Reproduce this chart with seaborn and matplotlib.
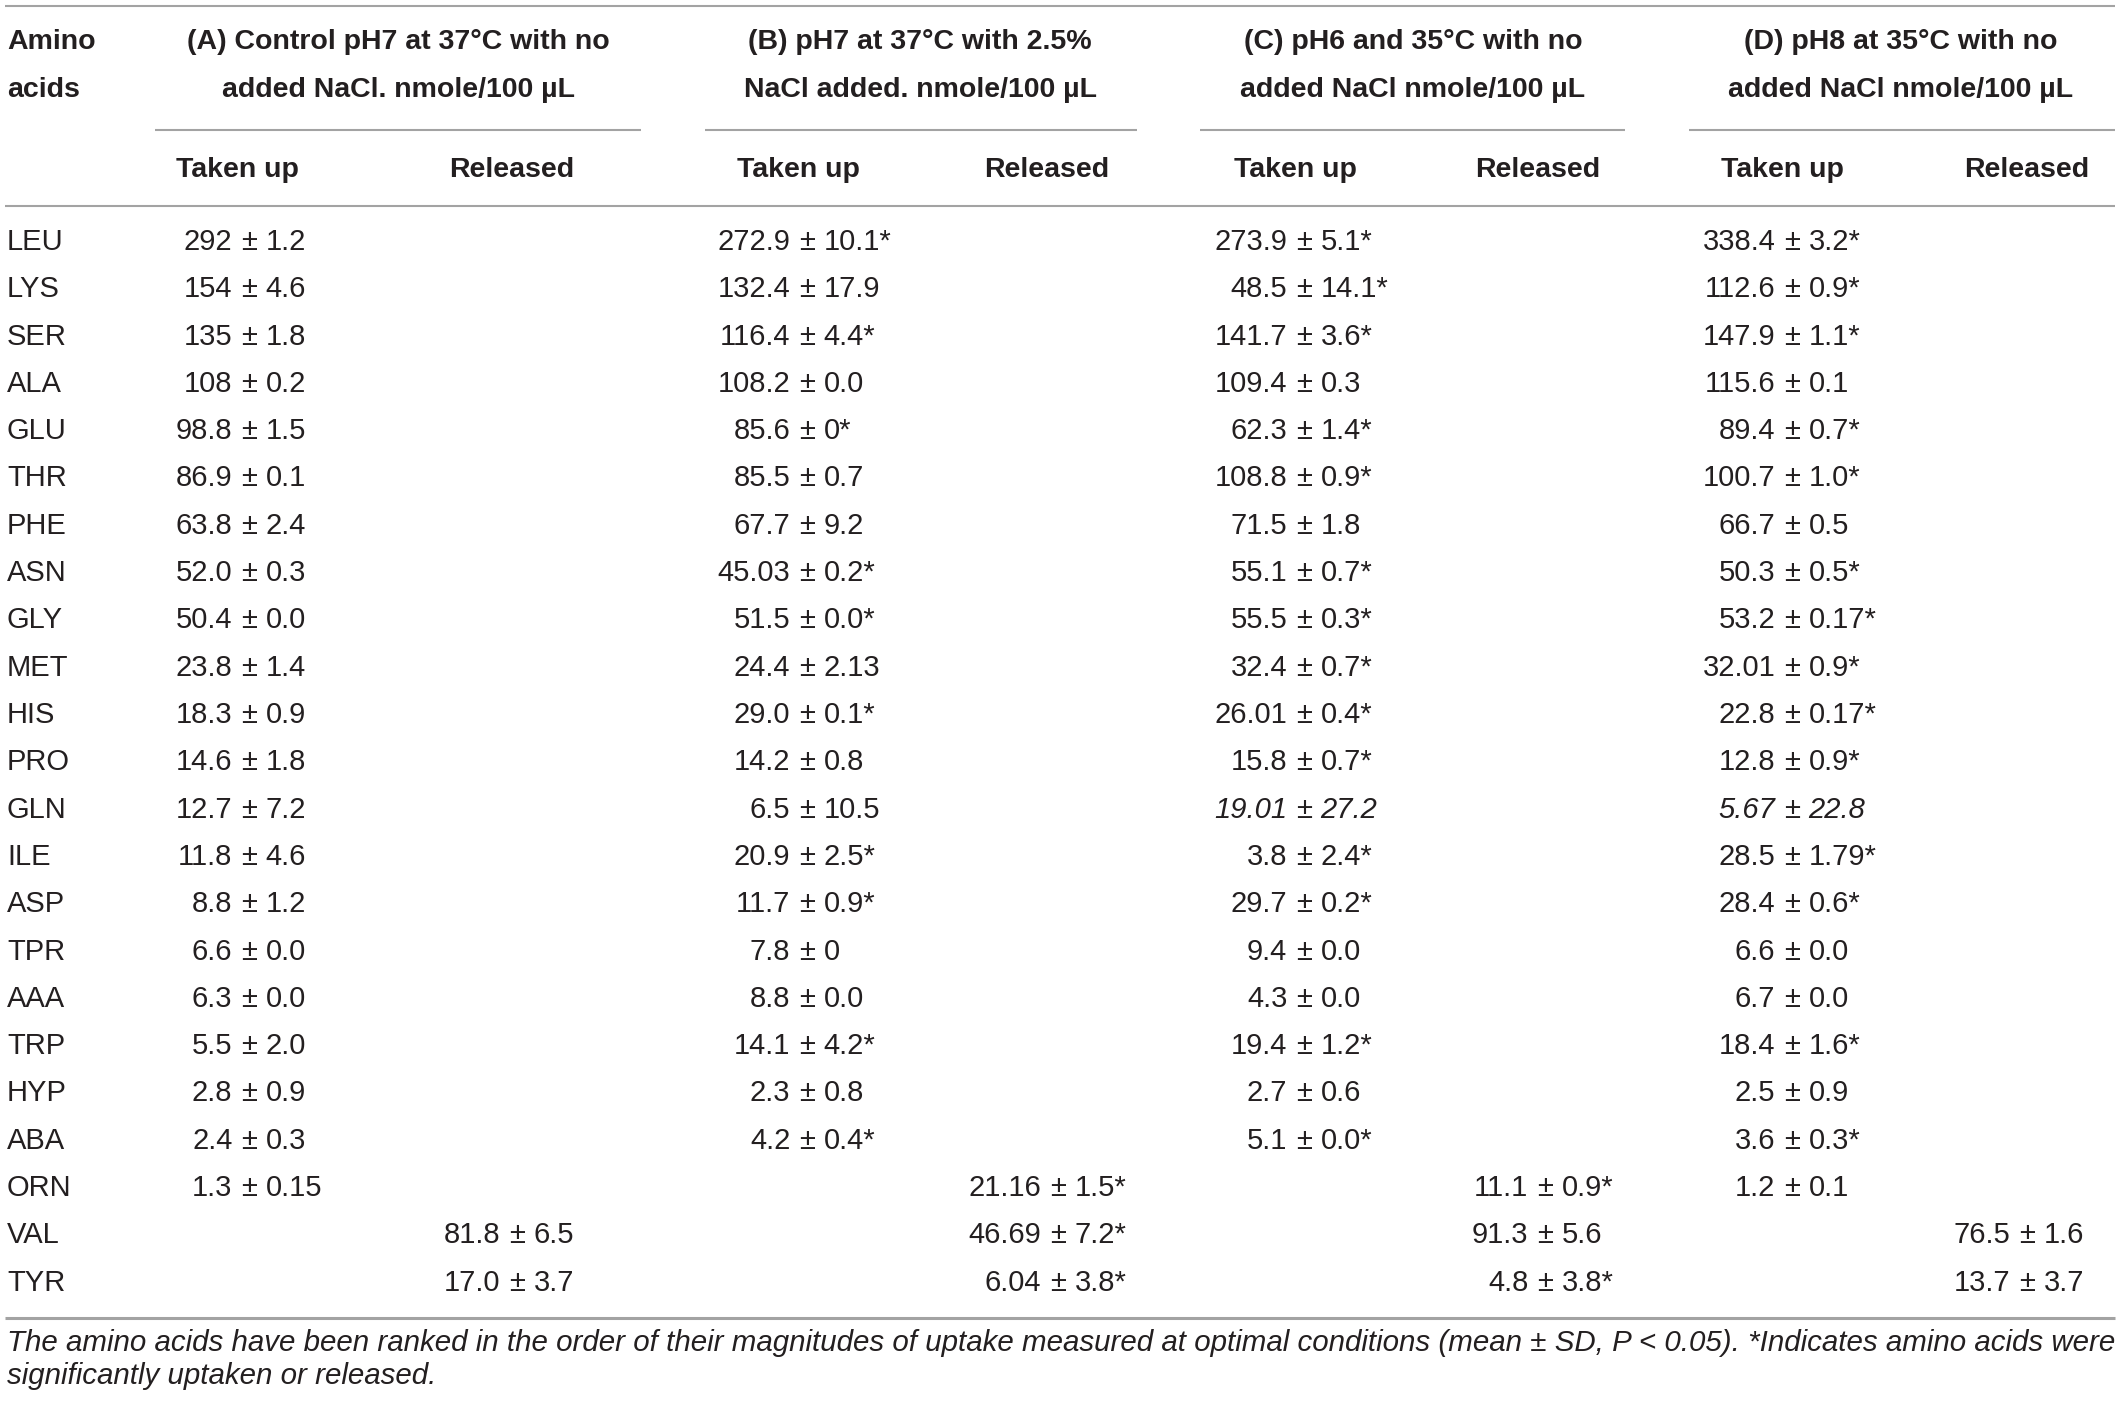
import matplotlib
matplotlib.use("Agg")
import matplotlib.pyplot as plt
import seaborn as sns

# table content
amino = ["LEU", "LYS", "SER", "ALA", "GLU", "THR", "PHE", "ASN", "GLY", "MET",
         "HIS", "PRO", "GLN", "ILE", "ASP", "TPR", "AAA", "TRP", "HYP", "ABA",
         "ORN", "VAL", "TYR"]

a_taken = ["292 ± 1.2", "154 ± 4.6", "135 ± 1.8", "108 ± 0.2", "98.8 ± 1.5",
           "86.9 ± 0.1", "63.8 ± 2.4", "52.0 ± 0.3", "50.4 ± 0.0", "23.8 ± 1.4",
           "18.3 ± 0.9", "14.6 ± 1.8", "12.7 ± 7.2", "11.8 ± 4.6", "8.8 ± 1.2",
           "6.6 ± 0.0", "6.3 ± 0.0", "5.5 ± 2.0", "2.8 ± 0.9", "2.4 ± 0.3",
           "1.3 ± 0.15", "", ""]
a_released = [""] * 21 + ["81.8 ± 6.5", "17.0 ± 3.7"]

b_taken = ["272.9 ± 10.1*", "132.4 ± 17.9", "116.4 ± 4.4*", "108.2 ± 0.0",
           "85.6 ± 0*", "85.5 ± 0.7", "67.7 ± 9.2", "45.03 ± 0.2*", "51.5 ± 0.0*",
           "24.4 ± 2.13", "29.0 ± 0.1*", "14.2 ± 0.8", "6.5 ± 10.5", "20.9 ± 2.5*",
           "11.7 ± 0.9*", "7.8 ± 0", "8.8 ± 0.0", "14.1 ± 4.2*", "2.3 ± 0.8",
           "4.2 ± 0.4*", "", "", ""]
b_released = [""] * 20 + ["21.16 ± 1.5*", "46.69 ± 7.2*", "6.04 ± 3.8*"]

c_taken = ["273.9 ± 5.1*", "48.5 ± 14.1*", "141.7 ± 3.6*", "109.4 ± 0.3",
           "62.3 ± 1.4*", "108.8 ± 0.9*", "71.5 ± 1.8", "55.1 ± 0.7*", "55.5 ± 0.3*",
           "32.4 ± 0.7*", "26.01 ± 0.4*", "15.8 ± 0.7*", "19.01 ± 27.2", "3.8 ± 2.4*",
           "29.7 ± 0.2*", "9.4 ± 0.0", "4.3 ± 0.0", "19.4 ± 1.2*", "2.7 ± 0.6",
           "5.1 ± 0.0*", "", "", ""]
c_released = [""] * 20 + ["11.1 ± 0.9*", "91.3 ± 5.6", "4.8 ± 3.8*"]

d_taken = ["338.4 ± 3.2*", "112.6 ± 0.9*", "147.9 ± 1.1*", "115.6 ± 0.1",
           "89.4 ± 0.7*", "100.7 ± 1.0*", "66.7 ± 0.5", "50.3 ± 0.5*", "53.2 ± 0.17*",
           "32.01 ± 0.9*", "22.8 ± 0.17*", "12.8 ± 0.9*", "5.67 ± 22.8", "28.5 ± 1.79*",
           "28.4 ± 0.6*", "6.6 ± 0.0", "6.7 ± 0.0", "18.4 ± 1.6*", "2.5 ± 0.9",
           "3.6 ± 0.3*", "1.2 ± 0.1", "", ""]
d_released = [""] * 21 + ["76.5 ± 1.6", "13.7 ± 3.7"]

# cells printed in italics (row, column)
italic_cells = [("GLN", "c_taken"), ("GLN", "d_taken")]

group_titles = ["(A) Control pH7 at 37°C with no\nadded NaCl. nmole/100 µL",
                "(B) pH7 at 37°C with 2.5%\nNaCl added. nmole/100 µL",
                "(C) pH6 and 35°C with no\nadded NaCl nmole/100 µL",
                "(D) pH8 at 35°C with no\nadded NaCl nmole/100 µL"]
sub_titles = ["Taken up", "Released"]

footnote = ["The amino acids have been ranked in the order of their magnitudes of uptake "
            "measured at optimal conditions (mean ± SD, P < 0.05). *Indicates amino acids were",
            "significantly uptaken or released."]

columns = [("a_taken", a_taken), ("a_released", a_released),
           ("b_taken", b_taken), ("b_released", b_released),
           ("c_taken", c_taken), ("c_released", c_released),
           ("d_taken", d_taken), ("d_released", d_released)]

# layout (pixels)
W, H = 2118, 1404
pm_x = [249, 517, 807, 1058, 1304, 1545, 1792, 2027]
sub_x = [237, 512, 798, 1047, 1295, 1538, 1782, 2027]
group_x = [398, 920, 1413, 1901]
group_lines = [(155, 641), (705, 1137), (1200, 1625), (1689, 2115)]
row0, row_step = 242, 47.3

TXT = "#231f20"
RULE = "#a3a3a3"
FS = 21
FS_HEAD = 20.5

sns.set_theme(style="white")
plt.rcParams["font.family"] = ["Liberation Sans", "DejaVu Sans"]

fig = plt.figure(figsize=(W / 100, H / 100), dpi=100)
ax = fig.add_axes([0, 0, 1, 1])
ax.set_xlim(0, W)
ax.set_ylim(H, 0)
ax.axis("off")
sns.despine(ax=ax, left=True, bottom=True)

# rules
ax.hlines([6, 206], 5, 2115, color=RULE, lw=1.5)
ax.hlines(1318, 5, 2115, color=RULE, lw=2.2)
for x0, x1 in group_lines:
    ax.hlines(130, x0, x1, color=RULE, lw=1.5)

# header
ax.text(7, 42, "Amino", ha="left", va="center", fontsize=FS_HEAD, fontweight="bold", color=TXT)
ax.text(7, 90, "acids", ha="left", va="center", fontsize=FS_HEAD, fontweight="bold", color=TXT)
for gx, title in zip(group_x, group_titles):
    l1, l2 = title.split("\n")
    ax.text(gx, 42, l1, ha="center", va="center", fontsize=FS_HEAD, fontweight="bold", color=TXT)
    ax.text(gx, 90, l2, ha="center", va="center", fontsize=FS_HEAD, fontweight="bold", color=TXT)
for i, sx in enumerate(sub_x):
    ax.text(sx, 170, sub_titles[i % 2], ha="center", va="center", fontsize=FS_HEAD,
            fontweight="bold", color=TXT)

# body, cells aligned on the ± sign
gap = 0.57 * FS * 100 / 72
for r, name in enumerate(amino):
    y = row0 + r * row_step
    ax.text(7, y, name, ha="left", va="center", fontsize=FS, color=TXT)
    for (key, vals), px in zip(columns, pm_x):
        cell = vals[r]
        if not cell:
            continue
        style = "italic" if (name, key) in italic_cells else "normal"
        left, right = cell.split(" ± ")
        kw = dict(va="baseline", fontsize=FS, color=TXT, fontstyle=style)
        yb = y + 8
        ax.text(px - gap, yb, left, ha="right", **kw)
        ax.text(px, yb, "±", ha="center", **kw)
        ax.text(px + gap, yb, right, ha="left", **kw)

# footnote, fitted to the table width
fn = ax.text(7, 1343, footnote[0], ha="left", va="center", fontsize=18,
             fontstyle="italic", color=TXT)
fig.canvas.draw()
bb = fn.get_window_extent(renderer=fig.canvas.get_renderer())
fsize = 18 * (2108 / bb.width)
fn.set_fontsize(fsize)
ax.text(7, 1376, footnote[1], ha="left", va="center", fontsize=fsize,
        fontstyle="italic", color=TXT)

fig.savefig("out.png", dpi=100, facecolor="white")
